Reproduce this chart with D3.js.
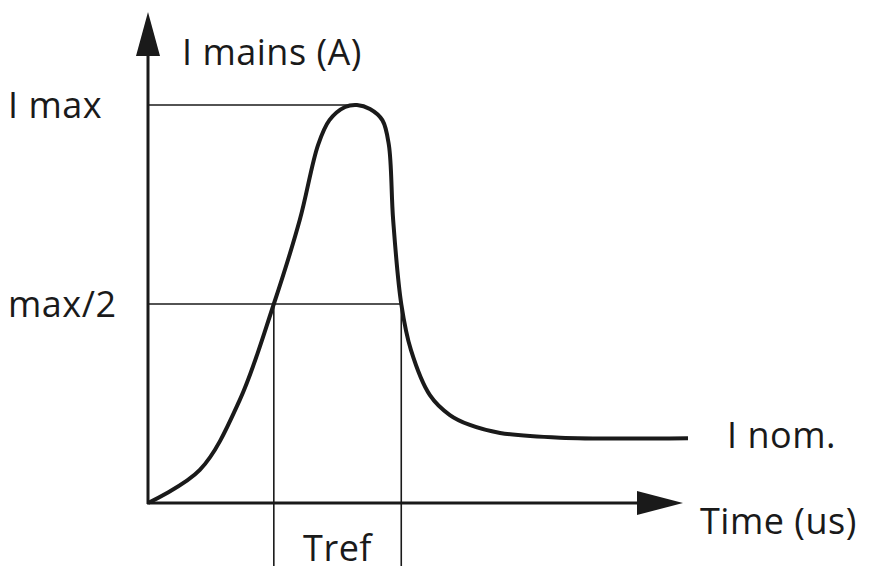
<!DOCTYPE html>
<html><head><meta charset="utf-8">
<script src="https://cdn.jsdelivr.net/npm/d3@7"></script>
<style>body{margin:0;background:#fff}text{font-family:"Open Sans",sans-serif;font-size:36px;fill:#1a1a1a;letter-spacing:0.5px}</style>
</head><body>
<script>
const timeVals = [0,9.6,17.0,23.3,28.1,31.5,33.6,36.5,38.7,41.1,43.4,44.6,45.4,46.9,48.7,52.2,55.9,59.6,65.2,76.3,100];
const currentVals = [0,0.083,0.259,0.5,0.711,0.9,0.962,0.995,1.0,0.99,0.962,0.90,0.711,0.5,0.384,0.271,0.221,0.196,0.176,0.164,0.163];
const levelLabels = ["I max","max/2"];
const levelVals = [1.0,0.5];
const trefTimes = [23.3,46.9];

const W=880,H=579;
const svg=d3.select("body").append("svg").attr("width",W).attr("height",H);
const x=d3.scaleLinear().domain([0,100]).range([148,688]);
const y=d3.scaleLinear().domain([0,1]).range([503,105]);
const c="#1a1a1a";
levelVals.forEach((v,i)=>{
  const xe = i===0 ? x(38.7) : x(trefTimes[1]);
  svg.append("line").attr("x1",x(0)).attr("x2",xe).attr("y1",y(v)).attr("y2",y(v)).attr("stroke",c).attr("stroke-width",1.6);
  svg.append("text").attr("x",8).attr("y",y(v)+13).text(levelLabels[i]);
});
trefTimes.forEach(t=>svg.append("line").attr("x1",x(t)).attr("x2",x(t)).attr("y1",y(0.5)).attr("y2",566).attr("stroke",c).attr("stroke-width",1.6));
svg.append("line").attr("x1",x(0)).attr("x2",x(0)).attr("y1",y(0)+1).attr("y2",50).attr("stroke",c).attr("stroke-width",3);
svg.append("line").attr("x1",x(0)-1).attr("x2",645).attr("y1",y(0)).attr("y2",y(0)).attr("stroke",c).attr("stroke-width",3);
svg.append("path").attr("d","M148,12 L136,56 L160,56 Z").attr("fill",c);
svg.append("path").attr("d","M683,503 L637,491 L637,515 Z").attr("fill",c);
const line=d3.line().x((d,i)=>x(timeVals[i])).y(d=>y(d)).curve(d3.curveCatmullRom.alpha(0.5));
svg.append("path").datum(currentVals).attr("d",line).attr("fill","none").attr("stroke",c).attr("stroke-width",4).attr("stroke-linejoin","round");
svg.append("text").attr("x",182).attr("y",65).text("I mains (A)");
svg.append("text").attr("x",727).attr("y",448).text("I nom.");
svg.append("text").attr("x",700).attr("y",534).text("Time (us)");
svg.append("text").attr("x",(x(trefTimes[0])+x(trefTimes[1]))/2).attr("y",561).attr("text-anchor","middle").text("Tref");
</script>
</body></html>
